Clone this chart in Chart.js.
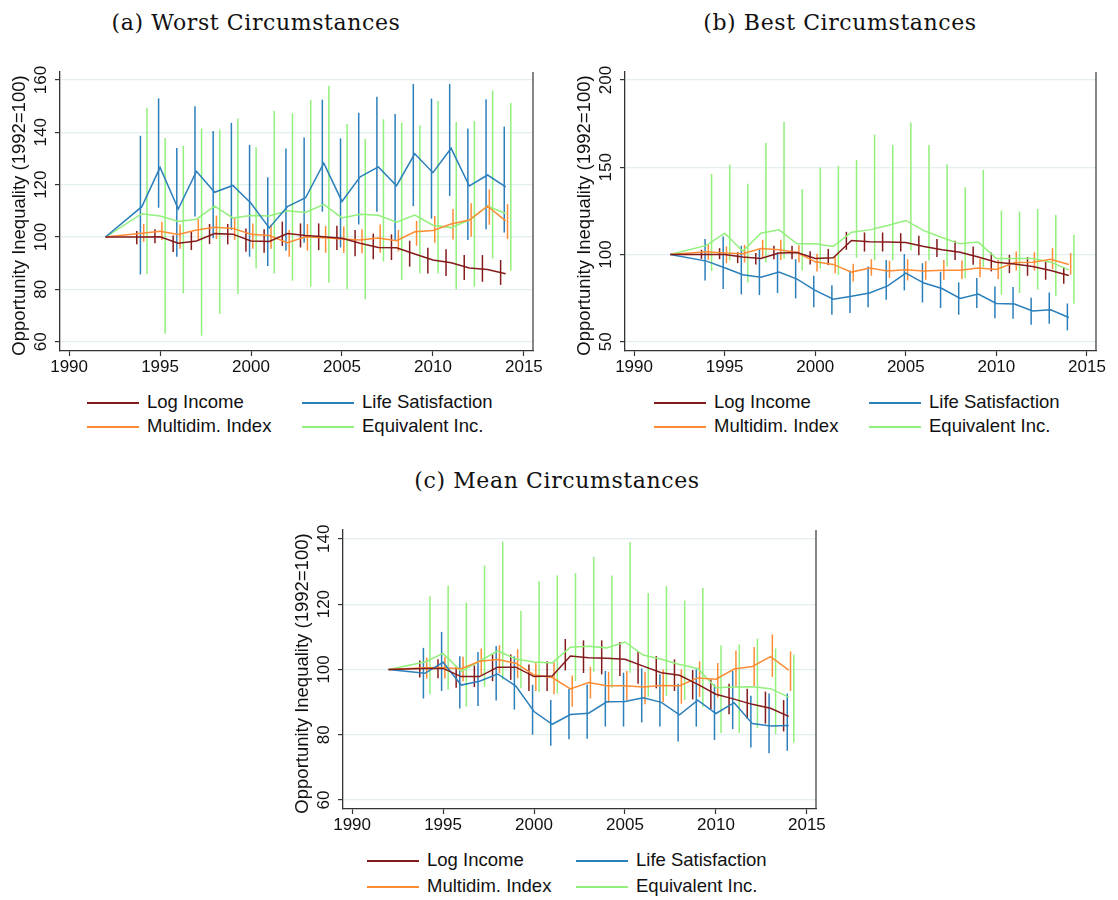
<!DOCTYPE html>
<html>
<head>
<meta charset="utf-8">
<script src="https://cdn.jsdelivr.net/npm/chart.js@4.4.0/dist/chart.umd.min.js"></script>
<style>
  body { margin: 0; background: #fff; width: 1118px; height: 900px; position: relative; overflow: hidden;
         font-family: "Liberation Sans", Arial, sans-serif; }
  canvas { position: absolute; }
  .title { position: absolute; font-family: "DejaVu Serif", serif; font-size: 22px; line-height: 22px;
           color: #111; white-space: nowrap; transform: translateX(-50%); letter-spacing: 0.6px; }
  .leg { position: absolute; font-size: 18.5px; line-height: 20px; height: 20px; color: #111; white-space: nowrap; }
  .leg i { position: absolute; left: 0; top: 10px; width: 52px; height: 1.5px; }
  .leg span { position: absolute; left: 60px; top: 0; }
</style>
</head>
<body>
<div class="title" style="left:256px;top:12px">(a) Worst Circumstances</div>
<div class="title" style="left:840px;top:12px">(b) Best Circumstances</div>
<div class="title" style="left:557px;top:470px">(c) Mean Circumstances</div>
<canvas id="worst" width="555" height="340" style="left:0;top:40px"></canvas>
<canvas id="best" width="553" height="340" style="left:565px;top:40px"></canvas>
<canvas id="mean" width="555" height="340" style="left:283px;top:498px"></canvas>
<script>
// years of the point estimates (1993 missing) and of the confidence intervals
const years = [1992, 1994, 1995, 1996, 1997, 1998, 1999, 2000, 2001, 2002, 2003, 2004, 2005, 2006, 2007, 2008, 2009, 2010, 2011, 2012, 2013, 2014];
const ciYears = years.slice(1);
const xTicks = [1990, 1995, 2000, 2005, 2010, 2015];
const seriesNames = ['Log Income', 'Life Satisfaction', 'Multidim. Index', 'Equivalent Inc.'];

// (a) worst circumstances
const worstLogIncome   = [100, 100, 100.1, 97.6, 98.5, 101.3, 101.1, 98.5, 98.3, 101.3, 100.6, 100.1, 99.5, 97.6, 96, 95.9, 93.5, 91.2, 90.2, 88.2, 87.6, 86];
const worstLogIncomeLo = [97.2, 97.6, 94.3, 95, 97.3, 97.2, 94.4, 94, 96.6, 96, 95, 95, 92.7, 91.5, 91.2, 88.7, 86.1, 85.1, 83.6, 82.9, 81.7];
const worstLogIncomeHi = [102.3, 103, 100.6, 102, 105, 105, 103.3, 103, 105.9, 105.2, 105.2, 104.3, 102.7, 101.3, 101, 98.6, 95.9, 95.3, 93.1, 93.1, 91.2];
const worstLifeSat     = [100, 111.6, 126.6, 110.7, 125.1, 117.1, 119.7, 112.9, 103.5, 111.6, 115, 128.2, 113.6, 123, 126.8, 119.6, 131.8, 124.6, 133.9, 119.5, 123.7, 119.2];
const worstLifeSatLo   = [85.7, 111.2, 92.5, 107.8, 99.5, 102.7, 92.5, 88.9, 94.8, 97.8, 109.7, 96, 104.8, 109.7, 98.9, 111.8, 107, 115.7, 98.9, 103, 101.7];
const worstLifeSatHi   = [138.7, 153, 134, 150, 140.5, 143.6, 135.2, 122.8, 133.8, 138, 152.5, 137.7, 147.5, 153.6, 147, 158.5, 152.9, 158.5, 141.5, 152.6, 142.2];
const worstMultidim    = [100, 101.4, 102.2, 101, 102.7, 103.7, 103.3, 101.1, 100.6, 97.8, 100.1, 99.7, 99.2, 98.9, 99.6, 98.6, 102, 102.5, 105, 106.5, 111.8, 106.2];
const worstMultidimLo  = [98.2, 98.9, 95.5, 99.1, 99.2, 98.9, 95.5, 95.5, 92.5, 94.8, 94, 94, 93.8, 94, 94.5, 96.7, 97.8, 99.1, 100.1, 104.7, 99.2];
const worstMultidimHi  = [105, 105.7, 104.8, 106.8, 108.2, 107.5, 105.2, 104.8, 102.7, 105, 104.2, 104, 103, 104.8, 102.7, 106.2, 108, 110.7, 112.9, 118.2, 112.6];
const worstEquiv       = [100, 108.9, 108, 105.9, 106.8, 111.8, 107.3, 108.2, 108, 110, 109.4, 112.5, 107.3, 108.7, 108.3, 105.7, 108.4, 104.5, 103.6, 106.5, 111.8, 109];
const worstEquivLo     = [85.9, 63, 78.5, 62.3, 70.6, 78.2, 88, 86.1, 83.3, 81, 82.5, 80, 76.2, 90.6, 83.6, 86.1, 86.1, 80, 81, 91.8, 87.1];
const worstEquivHi     = [149.4, 137.8, 134.9, 141.5, 141.1, 145.3, 134.3, 148.2, 147.3, 152.4, 157.8, 143.2, 137.5, 145, 143.7, 142.7, 152, 144, 144.3, 156, 151.2];
const worstTicks = [60, 80, 100, 120, 140, 160];

// (b) best circumstances
const bestLogIncome   = [100, 100, 100, 98.5, 97.7, 100.8, 101.1, 97.7, 98.1, 108, 107.3, 107.1, 106.9, 104.6, 102.7, 101.3, 98.5, 95.6, 94.5, 93.1, 90.8, 88];
const bestLogIncomeLo = [97.5, 97.3, 95, 94.3, 97.3, 97.3, 94.3, 93.9, 102.7, 101.7, 101.7, 101.7, 99.6, 98.5, 96.9, 94.1, 90.3, 89.3, 87.8, 85.5, 83.2];
const bestLogIncomeHi = [102.7, 103.6, 101.3, 100.8, 105, 105, 101.9, 103.2, 113, 112.6, 112.6, 112.2, 110.7, 108.8, 107.8, 104.6, 101.1, 99.8, 98.5, 96, 92.7];
const bestLifeSat     = [100, 96.2, 92.4, 88.4, 87, 89.9, 85.9, 79.4, 74.4, 76, 77.9, 82, 89.3, 83.6, 80.5, 74.8, 77.3, 71.9, 71.6, 67.6, 68.3, 63.9];
const bestLifeSatLo   = [85.1, 80.2, 77.1, 76.7, 77.9, 74.8, 69.8, 65.5, 66.4, 69.8, 74, 79.4, 72.5, 69.3, 65.5, 69.3, 63.5, 63.2, 59.7, 60.3, 56.5];
const bestLifeSatHi   = [108.8, 110.3, 105, 103, 101.3, 97.3, 87.8, 82.4, 90.8, 93.1, 96.9, 100.2, 95, 90.1, 84, 86.5, 81.7, 81.3, 75.2, 78.2, 71.9];
const bestMultidim    = [100, 101.5, 100.8, 100.4, 103.4, 102.7, 101.1, 95.8, 94.3, 89.9, 92.2, 90.5, 91.2, 90.6, 91, 91, 92.2, 91.4, 95.4, 95.6, 97.3, 94.3];
const bestMultidimLo  = [96.9, 95, 95.4, 98.5, 96.9, 95.4, 90.3, 89.3, 84.5, 87.8, 86.5, 85.1, 85.5, 85.5, 85.9, 87, 85.9, 90.8, 90.8, 91.6, 88.4];
const bestMultidimHi  = [105.5, 104.6, 105.5, 108.4, 108.4, 105.3, 100.4, 98.9, 94.7, 97.3, 96.4, 97.3, 96.2, 96.9, 96.6, 97.5, 96.9, 101.7, 101.3, 103.6, 100.8];
const bestEquiv       = [100, 105.2, 112.2, 101.9, 112.2, 114.1, 106.1, 106.1, 104.6, 112.8, 114.1, 116.6, 119.5, 113.7, 109.7, 106.1, 107.1, 97.7, 97.7, 97.7, 95.6, 91.2];
const bestEquivLo     = [90.5, 96.6, 84, 95.4, 97.5, 90.8, 92, 88.2, 98.1, 96.6, 96.6, 102.3, 96.6, 93.1, 86.5, 92.7, 76.9, 77.9, 79.8, 76, 71.8];
const bestEquivHi     = [146.2, 151.5, 140.5, 163.9, 176.1, 137.6, 149.8, 150.8, 154.2, 168.7, 162.8, 175.6, 162.8, 151.7, 138.5, 148.5, 125.2, 124.6, 126.1, 122.7, 111.3];
const bestTicks = [50, 100, 150, 200];

// (c) mean circumstances
const meanLogIncome   = [100, 100.3, 100.3, 97.8, 97.8, 100.7, 100.7, 97.8, 98, 104.1, 103.6, 103.4, 103.1, 101, 99, 98.2, 95.4, 92.4, 90.9, 89.3, 88.1, 85.6];
const meanLogIncomeLo = [97.5, 97.3, 94.4, 94.6, 96.4, 96.8, 93.4, 93.4, 99.7, 98.9, 98.5, 98, 95.6, 94.2, 93.4, 90.8, 87.8, 86.3, 84.9, 83.4, 81];
const meanLogIncomeHi = [102.7, 103.1, 100.7, 101.2, 104.6, 104.6, 101.5, 102.5, 109.3, 108.9, 108.9, 108.4, 105.6, 104.1, 103.1, 99.8, 96.9, 95.6, 94.1, 93.2, 90.6];
const meanLifeSat     = [100, 98.8, 102.2, 95.2, 96.4, 98.6, 94.9, 87.1, 83.2, 86.2, 86.6, 90.1, 90.2, 91.3, 89.9, 86.1, 90.6, 86.5, 89.8, 83.4, 82.7, 82.8];
const meanLifeSatLo   = [91.1, 93.4, 88, 88.8, 90.5, 87.7, 80, 76.6, 78.6, 78.8, 82.5, 82.5, 83.8, 82.5, 77.9, 82.5, 78.4, 81.7, 76.1, 74.3, 75.1];
const meanLifeSatHi   = [106.6, 111.5, 104, 105.3, 107.2, 104, 95.3, 90.6, 94, 95.4, 99.5, 99, 100.3, 98.5, 95.6, 100, 95.4, 99.5, 91.9, 92.6, 92.6];
const meanMultidim    = [100, 100.5, 100.5, 100.2, 102.5, 103, 101.9, 98.3, 97.5, 94, 96, 95, 95, 94.6, 95.1, 95, 97.4, 97, 100.1, 100.9, 103.9, 99.8];
const meanMultidimLo  = [97.2, 97.2, 96.4, 98.3, 98.8, 97.3, 93.4, 92.4, 88.6, 91.1, 89.8, 90.6, 89.3, 90, 89.5, 91.6, 91.4, 94.6, 94.9, 97.7, 93.4];
const meanMultidimHi  = [103.6, 103.9, 103.9, 106.4, 107.4, 106.2, 102.2, 102.2, 98.1, 100.8, 99.3, 99.5, 99.3, 100, 100, 102.5, 102, 105.8, 106.9, 110.7, 105.5];
const meanEquiv       = [100, 102.3, 104.9, 99.4, 102.5, 105.7, 103.2, 102.3, 102, 106.8, 107.1, 106.6, 108.4, 104.4, 103.1, 101.5, 100.3, 94.4, 94.6, 94.7, 94.1, 91.5];
const meanEquivLo     = [92.4, 93.8, 88.6, 94.7, 96.9, 94.2, 93.1, 92.6, 96.4, 99.3, 94.4, 99, 91.6, 91.9, 90.6, 88.5, 80.5, 80.5, 82, 80.2, 77.6];
const meanEquivHi     = [122.4, 125.7, 120.5, 131.8, 139.1, 118, 127, 128.8, 129.5, 134.5, 128.8, 139, 123.4, 125.5, 121.1, 124.9, 107.4, 107.6, 109.4, 106.4, 104.6];
const meanTicks = [60, 80, 100, 120, 140];

// styling
const colors = ['#841b1b', '#2b7fbb', '#fd8c35', '#92f07c'];
const ciDodge = [-0.28, -0.08, 0.1, 0.28];   // horizontal shift of each CI bar (years)
const FONT = '"Liberation Sans", Arial, sans-serif';
Chart.defaults.font.family = FONT;
Chart.defaults.color = '#111';

const sidePlugin = {
  id: 'side',
  afterDraw(chart) {
    const { ctx, chartArea: a, scales: { y } } = chart;
    ctx.save();
    ctx.strokeStyle = '#444';
    ctx.lineWidth = 1.3;
    ctx.beginPath();
    ctx.moveTo(a.right, a.top);
    ctx.lineTo(a.right, a.bottom);
    ctx.stroke();
    ctx.fillStyle = '#111';
    ctx.textAlign = 'center';
    ctx.textBaseline = 'middle';
    ctx.font = '17px ' + FONT;
    y.ticks.forEach(t => {
      ctx.save();
      ctx.translate(a.left - 19, y.getPixelForValue(t.value));
      ctx.rotate(-Math.PI / 2);
      ctx.fillText(String(t.value), 0, 0);
      ctx.restore();
    });
    ctx.font = '18.5px ' + FONT;
    ctx.translate(a.left - 40, (a.top + a.bottom) / 2 + 4);
    ctx.rotate(-Math.PI / 2);
    ctx.fillText('Opportunity Inequality (1992=100)', 0, 0);
    ctx.restore();
  }
};

function makePanel(id, series, yTicks, yMin, yMax) {
  const datasets = [];
  series.forEach((s, i) => {
    datasets.push({
      type: 'line', label: seriesNames[i], order: 0,
      data: years.map((yr, k) => ({ x: yr, y: s[0][k] })),
      borderColor: colors[i], borderWidth: 1.5, pointRadius: 0, tension: 0, fill: false
    });
    datasets.push({
      type: 'bar', label: seriesNames[i] + ' CI', order: 1,
      data: ciYears.map((yr, k) => ({ x: yr + ciDodge[i], y: [s[1][k], s[2][k]] })),
      backgroundColor: colors[i], borderWidth: 0, barThickness: 1.5, inflateAmount: 0, grouped: false
    });
  });
  new Chart(document.getElementById(id), {
    type: 'line',
    data: { datasets },
    options: {
      responsive: false, animation: false, devicePixelRatio: 1,
      layout: { padding: { top: 32, right: 22, left: 0, bottom: 0 } },
      plugins: { legend: { display: false }, tooltip: { enabled: false } },
      scales: {
        x: {
          type: 'linear', min: 1989.5, max: 2015.5, offset: false,
          afterBuildTicks: sc => { sc.ticks = xTicks.map(v => ({ value: v })); },
          afterFit: sc => { sc.height = 29; },
          ticks: { font: { size: 17 }, color: '#111', padding: 1, maxRotation: 0, autoSkip: false, callback: v => String(v) },
          grid: { offset: false, drawOnChartArea: false, tickLength: 5, tickColor: '#333', tickWidth: 1.2 },
          border: { display: true, color: '#333', width: 1.3 }
        },
        y: {
          type: 'linear', min: yMin, max: yMax, beginAtZero: false,
          afterBuildTicks: sc => { sc.ticks = yTicks.map(v => ({ value: v })); },
          afterFit: sc => { sc.width = 60; },
          ticks: { display: false },
          grid: { offset: false, color: '#e4edef', lineWidth: 1.2, tickLength: 5, tickColor: '#333', tickWidth: 1.2 },
          border: { display: true, color: '#333', width: 1.3 }
        }
      }
    },
    plugins: [sidePlugin]
  });
}

makePanel('worst', [
  [worstLogIncome, worstLogIncomeLo, worstLogIncomeHi],
  [worstLifeSat, worstLifeSatLo, worstLifeSatHi],
  [worstMultidim, worstMultidimLo, worstMultidimHi],
  [worstEquiv, worstEquivLo, worstEquivHi]
], worstTicks, 56.45, 163.06);

makePanel('best', [
  [bestLogIncome, bestLogIncomeLo, bestLogIncomeHi],
  [bestLifeSat, bestLifeSatLo, bestLifeSatHi],
  [bestMultidim, bestMultidimLo, bestMultidimHi],
  [bestEquiv, bestEquivLo, bestEquivHi]
], bestTicks, 44.67, 204.6);

makePanel('mean', [
  [meanLogIncome, meanLogIncomeLo, meanLogIncomeHi],
  [meanLifeSat, meanLifeSatLo, meanLifeSatHi],
  [meanMultidim, meanMultidimLo, meanMultidimHi],
  [meanEquiv, meanEquivLo, meanEquivHi]
], meanTicks, 57.25, 142.7);

// legends: two columns, two rows (Log Income / Life Satisfaction, Multidim. Index / Equivalent Inc.)
function addLegend(x0, y0, colGap, rowGap) {
  seriesNames.forEach((name, i) => {
    const d = document.createElement('div');
    d.className = 'leg';
    d.style.left = (x0 + (i % 2) * colGap) + 'px';
    d.style.top = (y0 + Math.floor(i / 2) * rowGap - 10) + 'px';
    d.innerHTML = '<i style="background:' + colors[i] + '"></i><span>' + name + '</span>';
    document.body.appendChild(d);
  });
}
addLegend(87, 402, 215, 24);
addLegend(654, 402, 215, 24);
addLegend(367, 860, 209, 26);
</script>
</body>
</html>
